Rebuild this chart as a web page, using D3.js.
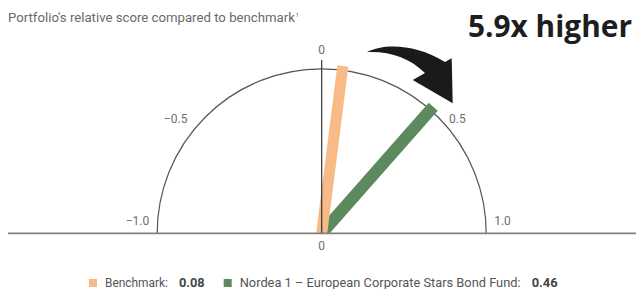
<!DOCTYPE html>
<html>
<head>
<meta charset="utf-8">
<script src="https://cdn.jsdelivr.net/npm/d3@7"></script>
<style>
  html, body { margin: 0; padding: 0; background: #ffffff; }
  svg { display: block; font-family: Roboto, "Open Sans", sans-serif; }
</style>
</head>
<body>
<script>
// ---- data ----
const titleText = "Portfolio's relative score compared to benchmark";
const titleSup = "1";
const headline = "5.9x higher";
const seriesNames = ["Benchmark", "Nordea 1 \u2013 European Corporate Stars Bond Fund"];
const seriesValues = [0.08, 0.46];
const seriesLabels = ["0.08", "0.46"];
const seriesColors = ["#F8BA87", "#5B8A5F"];
const tickValues = [-1, -0.5, 0, 0.5, 1];
const tickLabels = ["\u22121.0", "\u22120.5", "0", "0.5", "1.0"];

// ---- layout ----
const W = 639, H = 289;
const cx = 321.7, cy = 233.3, R = 164.5;

const svg = d3.select("body").append("svg").attr("width", W).attr("height", H);

// fit helper: scale font-size so text reaches target width
function fit(sel, target) {
  const fs = parseFloat(sel.attr("font-size"));
  const w = sel.node().getComputedTextLength();
  sel.attr("font-size", (fs * target / w).toFixed(2));
  return sel;
}

// angle scale (degrees from vertical)
const angle = d3.scaleLinear().domain([-1, 1]).range([-90, 90]);

// title
const title = svg.append("text").attr("x", 8).attr("y", 22)
  .attr("font-size", 11.5).attr("fill", "#6a6a6a").text(titleText);
fit(title, 287);
title.append("tspan").attr("font-size", 6).attr("dy", -5).attr("dx", 0.5).text(titleSup);

// headline
const hl = svg.append("text").attr("x", 468).attr("y", 37)
  .attr("font-size", 28).attr("font-weight", 700).attr("fill", "#1e1e1e")
  .style("font-family", "'Open Sans', sans-serif").text(headline);
fit(hl, 164);

// arc (semicircle)
const p = d3.path();
p.arc(cx, cy, R, Math.PI, 2 * Math.PI);
svg.append("path").attr("d", p.toString()).attr("fill", "none")
  .attr("stroke", "#555").attr("stroke-width", 1.2);

// clip for bars above axis
svg.append("clipPath").attr("id", "above")
  .append("rect").attr("x", 0).attr("y", 0).attr("width", W).attr("height", cy);

const barLen = R * 1.025;
const barW = [11, 12];
const order = d3.range(seriesValues.length).reverse();
svg.append("g").attr("clip-path", "url(#above)")
  .selectAll("rect").data(order).join("rect")
  .attr("x", i => -barW[i] / 2).attr("y", -barLen)
  .attr("width", i => barW[i]).attr("height", barLen)
  .attr("fill", i => seriesColors[i])
  .attr("transform", i => `translate(${cx},${cy}) rotate(${angle(seriesValues[i])})`);

// vertical zero line
svg.append("line").attr("x1", cx).attr("x2", cx).attr("y1", 60).attr("y2", cy)
  .attr("stroke", "#333").attr("stroke-width", 1.2);

// horizontal axis
svg.append("line").attr("x1", 8).attr("x2", 636).attr("y1", cy).attr("y2", cy)
  .attr("stroke", "#808080").attr("stroke-width", 1.8);

// tick labels
const tg = svg.append("g").attr("font-size", 12).attr("fill", "#6e6e6e");
tickValues.forEach((v, i) => {
  const a = angle(v) * Math.PI / 180;
  const t = tg.append("text").text(tickLabels[i]);
  if (v === 0) {
    t.attr("x", cx).attr("y", cy - R - 15).attr("text-anchor", "middle");
    tg.append("text").text(tickLabels[i]).attr("x", cx).attr("y", cy + 17).attr("text-anchor", "middle");
  } else if (Math.abs(v) === 1) {
    t.attr("x", cx + Math.sign(v) * (R + 8)).attr("y", cy - 8)
      .attr("text-anchor", v > 0 ? "start" : "end");
  } else {
    const gap = v > 0 ? 11 : 18;
    t.attr("x", cx + Math.sin(a) * R + Math.sign(v) * gap)
      .attr("y", cy - Math.cos(a) * R + 6)
      .attr("text-anchor", v > 0 ? "start" : "end");
  }
});

// arrow annotation
svg.append("path")
  .attr("d", "M367,52 C385,43 416,44 445,62 L451.7,58.3 L452.7,103.3 L412.7,80 L425,73 C410,58 390,51 367,52 Z")
  .attr("fill", "#1a1a1a");

// legend
const legendY = 287;
const lg = svg.append("g").attr("fill", "#555");
const nameTargets = [63, 281];
const valTargets = [25.7, 26];
let lx = 89;
seriesNames.forEach((name, i) => {
  lg.append("rect").attr("x", lx).attr("y", 279).attr("width", 8).attr("height", 8)
    .attr("fill", seriesColors[i]);
  lx += 16;
  const nt = lg.append("text").attr("x", lx).attr("y", legendY).attr("font-size", 12).text(name + ":");
  fit(nt, nameTargets[i]);
  lx += nameTargets[i] + 11;
  const vt = lg.append("text").attr("x", lx).attr("y", legendY).attr("font-size", 12)
    .attr("font-weight", 700).attr("fill", "#444").text(seriesLabels[i]);
  fit(vt, valTargets[i]);
  lx += valTargets[i] + 19;
});
</script>
</body>
</html>
